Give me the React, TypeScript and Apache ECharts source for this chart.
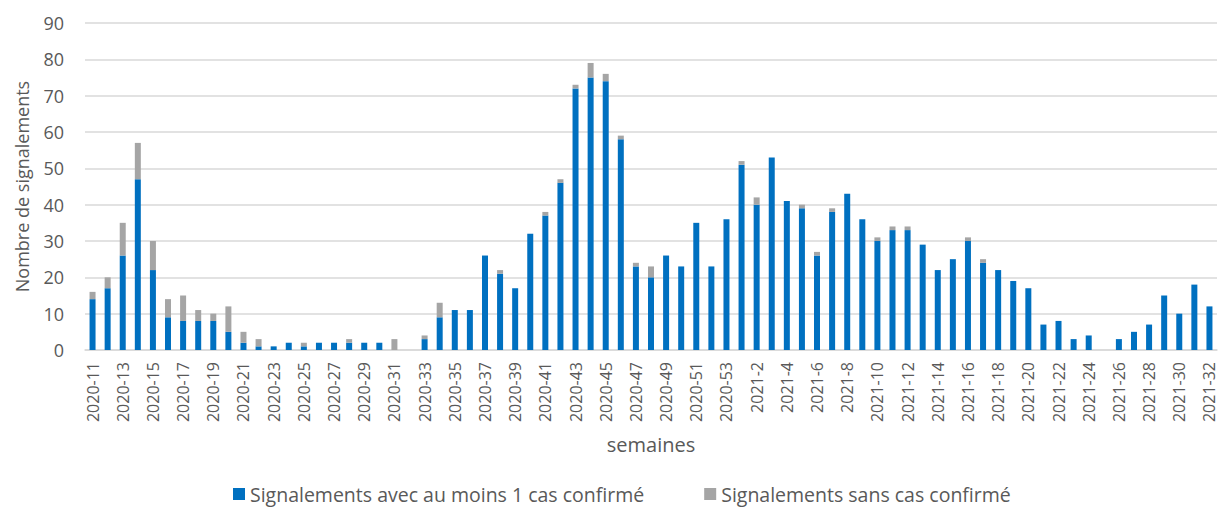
import React, { useEffect, useRef } from "react";
import * as echarts from "echarts";

const weeks: string[] = [
  "2020-11","2020-12","2020-13","2020-14","2020-15","2020-16","2020-17","2020-18","2020-19","2020-20",
  "2020-21","2020-22","2020-23","2020-24","2020-25","2020-26","2020-27","2020-28","2020-29","2020-30",
  "2020-31","2020-32","2020-33","2020-34","2020-35","2020-36","2020-37","2020-38","2020-39","2020-40",
  "2020-41","2020-42","2020-43","2020-44","2020-45","2020-46","2020-47","2020-48","2020-49","2020-50",
  "2020-51","2020-52","2020-53",
  "2021-1","2021-2","2021-3","2021-4","2021-5","2021-6","2021-7","2021-8","2021-9","2021-10",
  "2021-11","2021-12","2021-13","2021-14","2021-15","2021-16","2021-17","2021-18","2021-19","2021-20",
  "2021-21","2021-22","2021-23","2021-24","2021-25","2021-26","2021-27","2021-28","2021-29","2021-30",
  "2021-31","2021-32",
];

const avecCas: number[] = [
  14, 17, 26, 47, 22, 9, 8, 8, 8, 5,
  2, 1, 1, 2, 1, 2, 2, 2, 2, 2,
  0, 0, 3, 9, 11, 11, 26, 21, 17, 32,
  37, 46, 72, 75, 74, 58, 23, 20, 26, 23,
  35, 23, 36,
  51, 40, 53, 41, 39, 26, 38, 43, 36, 30,
  33, 33, 29, 22, 25, 30, 24, 22, 19, 17,
  7, 8, 3, 4, 0, 3, 5, 7, 15, 10,
  18, 12,
];

const sansCas: number[] = [
  2, 3, 9, 10, 8, 5, 7, 3, 2, 7,
  3, 2, 0, 0, 1, 0, 0, 1, 0, 0,
  3, 0, 1, 4, 0, 0, 0, 1, 0, 0,
  1, 1, 1, 4, 2, 1, 1, 3, 0, 0,
  0, 0, 0,
  1, 2, 0, 0, 1, 1, 1, 0, 0, 1,
  1, 1, 0, 0, 0, 1, 1, 0, 0, 0,
  0, 0, 0, 0, 0, 0, 0, 0, 0, 0,
  0, 0,
];

const seriesNames: string[] = [
  "Signalements avec au moins 1 cas confirmé",
  "Signalements sans cas confirmé",
];

const FONT = "'Open Sans', sans-serif";
const TXT = "#595959";

export default function App() {
  const ref = useRef<HTMLDivElement>(null);
  useEffect(() => {
    if (!ref.current) return;
    const chart = echarts.init(ref.current, null, { renderer: "svg" });
    chart.setOption({
      animation: false,
      textStyle: { fontFamily: FONT },
      grid: { left: 85, right: 2, top: 23, bottom: 161, containLabel: false },
      legend: {
        bottom: 2,
        left: 228,
        itemWidth: 12,
        itemHeight: 12,
        itemGap: 60,
        icon: "rect",
        textStyle: { fontFamily: FONT, fontSize: 19.5, color: TXT },
        data: seriesNames,
      },
      xAxis: {
        type: "category",
        data: weeks,
        name: "semaines",
        nameLocation: "middle",
        nameGap: 84,
        nameTextStyle: { fontFamily: FONT, fontSize: 20, color: TXT },
        axisLine: { lineStyle: { color: "#D9D9D9", width: 1.5 } },
        axisTick: { show: false },
        axisLabel: {
          interval: 1,
          rotate: 90,
          fontFamily: FONT,
          fontSize: 16,
          color: TXT,
          margin: 12,
        },
      },
      yAxis: {
        type: "value",
        min: 0,
        max: 90,
        interval: 10,
        name: "Nombre de signalements",
        nameLocation: "middle",
        nameGap: 54,
        nameTextStyle: { fontFamily: FONT, fontSize: 18, color: TXT },
        axisLabel: { fontFamily: FONT, fontSize: 18, color: TXT, margin: 21 },
        splitLine: { lineStyle: { color: "#D9D9D9", width: 1.5 } },
        axisLine: { show: false },
        axisTick: { show: false },
      },
      series: [
        {
          name: seriesNames[0],
          type: "bar",
          stack: "total",
          data: avecCas,
          barWidth: 6,
          itemStyle: { color: "#0070C0" },
        },
        {
          name: seriesNames[1],
          type: "bar",
          stack: "total",
          data: sansCas,
          barWidth: 6,
          itemStyle: { color: "#A5A5A5" },
        },
      ],
    });
    return () => chart.dispose();
  }, []);
  return (
    <div
      ref={ref}
      style={{ position: "absolute", left: 0, top: 0, width: 1219, height: 511 }}
    />
  );
}
